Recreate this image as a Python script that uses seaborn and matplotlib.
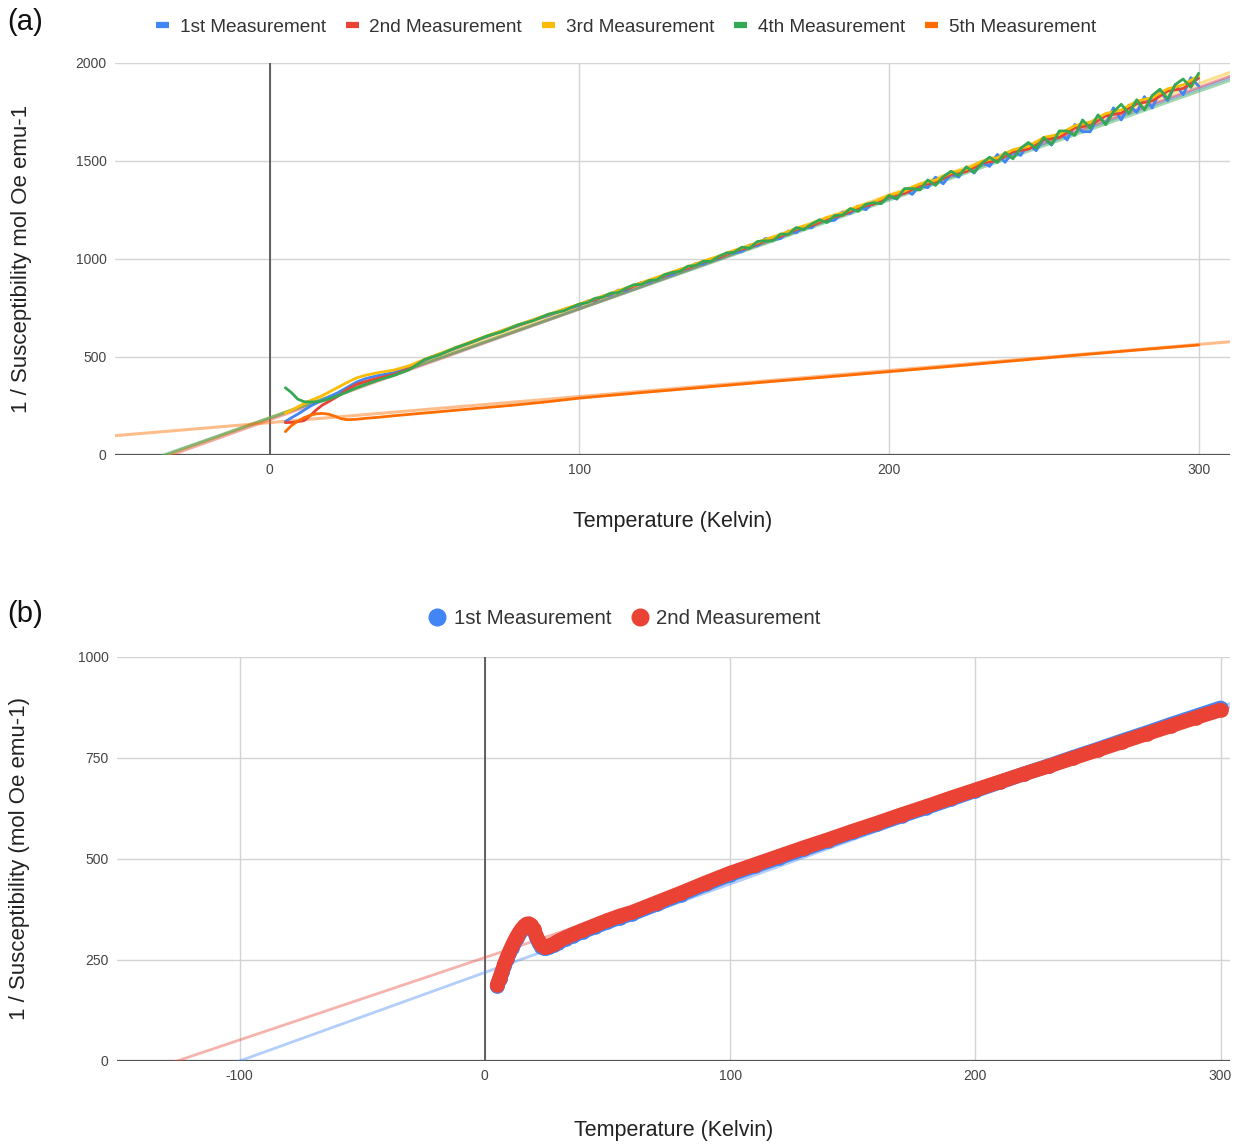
import numpy as np
import seaborn as sns
import matplotlib.pyplot as plt
from matplotlib.lines import Line2D

# Colours (Google Sheets palette)
BLUE, RED, YELLOW, GREEN, ORANGE = '#4285F4', '#EA4335', '#FBBC04', '#34A853', '#FF6D01'

# ---------------- Panel (a) data ----------------
labels_a = ['1st Measurement', '2nd Measurement', '3rd Measurement',
            '4th Measurement', '5th Measurement']

# coarse grid (2nd and 3rd measurement, mostly hidden under the others)
temp_a = [5, 7, 9, 11, 13, 15, 17, 19, 22, 25, 28, 31, 35, 40, 45,
          50, 55, 60, 65, 70, 75, 80, 85, 90, 95, 100, 105, 110, 115, 120,
          125, 130, 135, 140, 145, 150, 155, 160, 165, 170, 175, 180, 185,
          190, 195, 200, 205, 210, 215, 220, 225, 230, 235, 240, 245, 250,
          255, 260, 265, 270, 275, 280, 285, 290, 295, 300]

second_a = [165, 166, 170, 175, 200, 230, 255, 272, 300, 335, 360, 375, 392, 410, 440,
            486, 514, 546, 574, 605, 631, 661, 686, 716, 738, 768, 792, 822, 846, 876,
            899, 930, 953, 985, 1007, 1040, 1060, 1094, 1115, 1150, 1170, 1206, 1224,
            1261, 1280, 1318, 1334, 1376, 1390, 1432, 1446, 1490, 1502, 1548, 1560, 1608,
            1620, 1668, 1682, 1730, 1744, 1792, 1806, 1856, 1870, 1922]

third_a = [213, 228, 245, 262, 277, 290, 303, 320, 345, 370, 393, 407, 420, 433, 455,
           488, 518, 548, 578, 607, 635, 663, 690, 717, 744, 770, 797, 824, 852, 879,
           906, 934, 960, 989, 1014, 1044, 1068, 1099, 1123, 1156, 1179, 1212, 1234,
           1268, 1290, 1325, 1346, 1383, 1402, 1440, 1458, 1499, 1516, 1557, 1574, 1620,
           1636, 1680, 1698, 1742, 1760, 1805, 1823, 1868, 1888, 1935]

# fine grid (1st and 4th measurement, the visible noisy band)
temp_fine = [5, 7, 9, 11, 13, 15, 17, 19, 22, 25, 28, 31, 35, 40, 45,
             50, 55, 60, 65, 70, 75, 80, 85, 90, 95,
             100, 102.5, 105, 107.5, 110, 112.5, 115, 117.5, 120, 122.5, 125, 127.5,
             130, 132.5, 135, 137.5, 140, 142.5, 145, 147.5, 150, 152.5, 155, 157.5,
             160, 162.5, 165, 167.5, 170, 172.5, 175, 177.5, 180, 182.5, 185, 187.5,
             190, 192.5, 195, 197.5, 200, 202.5, 205, 207.5, 210, 212.5, 215, 217.5,
             220, 222.5, 225, 227.5, 230, 232.5, 235, 237.5, 240, 242.5, 245, 247.5,
             250, 252.5, 255, 257.5, 260, 262.5, 265, 267.5, 270, 272.5, 275, 277.5,
             280, 282.5, 285, 287.5, 290, 292.5, 295, 297.5, 300]

first_a = [170, 190, 208, 228, 248, 265, 280, 295, 318, 345, 372, 390, 405, 420, 447,
           484, 516, 544, 576, 603, 634, 658, 689, 711, 743,
           762, 785, 787, 810, 815, 841, 839, 863, 880, 881, 905, 912,
           920, 948, 950, 976, 973, 1000, 1003, 1031, 1031, 1038, 1071, 1067,
           1104, 1098, 1104, 1142, 1134, 1166, 1158, 1199, 1192, 1198, 1239, 1232,
           1269, 1251, 1291, 1285, 1321, 1305, 1354, 1329, 1377, 1363, 1417, 1383,
           1435, 1417, 1469, 1438, 1494, 1472, 1533, 1493, 1547, 1528, 1586, 1552,
           1614, 1581, 1648, 1607, 1686, 1649, 1649, 1727, 1690, 1771, 1709, 1785,
           1748, 1828, 1770, 1855, 1808, 1890, 1838, 1925, 1882]

fourth_a = [343, 318, 285, 272, 270, 271, 276, 285, 302, 322, 342, 360, 382, 405, 435,
            487, 513, 547, 574, 606, 629, 663, 685, 718, 736,
            770, 777, 799, 805, 825, 828, 850, 868, 870, 890, 894, 920,
            931, 937, 963, 966, 988, 988, 1013, 1030, 1034, 1060, 1055, 1089,
            1093, 1092, 1127, 1126, 1160, 1150, 1178, 1199, 1186, 1222, 1224, 1257,
            1243, 1279, 1287, 1282, 1324, 1307, 1359, 1359, 1352, 1403, 1375, 1419,
            1447, 1425, 1469, 1442, 1488, 1519, 1492, 1543, 1511, 1564, 1594, 1564,
            1620, 1583, 1653, 1653, 1630, 1709, 1667, 1735, 1685, 1751, 1789, 1742,
            1812, 1760, 1834, 1866, 1816, 1890, 1918, 1875, 1947]

temp_5th = [5, 7, 9, 11, 13, 15, 17, 19, 21, 23, 25, 28, 31, 35, 40, 45, 50,
            60, 70, 80, 90, 100, 120, 140, 160, 180, 200, 220, 240, 260, 280, 300]
fifth_a = [119, 150, 172, 190, 202, 210, 212, 208, 198, 185, 180, 182, 187, 192, 200, 207, 214,
           228, 242, 256, 272, 290, 318, 345, 372, 398, 425, 452, 480, 508, 535, 561]

# linear trend lines (1st..5th)
trend_a_slope = [5.60, 5.65, 5.68, 5.55, 1.33]
trend_a_intercept = [188, 180, 190, 190, 165]

# ---------------- Panel (b) data ----------------
labels_b = ['1st Measurement', '2nd Measurement']
temp_b = [5, 6, 7, 8, 9, 10, 11, 12, 13, 14, 15, 16, 17, 18, 19, 20, 21, 22, 23, 24,
          25, 26, 28, 30, 33, 36, 40, 45, 50, 55, 60, 70, 80, 90, 100, 110, 120, 130,
          140, 150, 160, 170, 180, 190, 200, 210, 220, 230, 240, 250, 260, 270, 280,
          290, 300]
first_b = [185, 202, 219, 236, 252, 266, 280, 292, 304, 314, 323, 330, 335, 336, 332, 322,
           306, 292, 283, 279, 279, 281, 286, 293, 302, 310, 320, 332, 344, 355, 364, 388,
           412, 437, 461, 482, 503, 524, 545, 566, 586, 607, 627, 648, 669, 690, 711, 731,
           752, 772, 793, 813, 834, 854, 874]
second_b = [188, 205, 222, 240, 256, 270, 284, 296, 308, 318, 327, 334, 339, 340, 336, 326,
            310, 296, 287, 283, 283, 285, 290, 297, 306, 314, 324, 336, 348, 359, 368, 392,
            416, 441, 465, 486, 507, 528, 548, 569, 589, 610, 630, 651, 671, 691, 711, 730,
            750, 770, 790, 810, 830, 850, 869]
trend_b_slope = [2.19, 2.04]
trend_b_intercept = [219, 256]

# ---------------- Figure ----------------
sns.set_theme(style='white')
plt.rcParams['font.family'] = ['Liberation Sans', 'DejaVu Sans']
plt.rcParams['axes.unicode_minus'] = False

fig = plt.figure(figsize=(12.37, 11.44), dpi=100)
ax_a = fig.add_axes([0.093, 0.6023, 0.901, 0.3427])
ax_b = fig.add_axes([0.0946, 0.0726, 0.900, 0.3531])


def style_axes(ax, xlim, ylim, xticks, yticks, ylabel, xlab_y):
    ax.set_xlim(xlim)
    ax.set_ylim(ylim)
    ax.set_xticks(xticks)
    ax.set_yticks(yticks)
    for s in ax.spines.values():
        s.set_visible(False)
    ax.grid(True, color='#d4d4d4', lw=1.0)
    ax.axhline(0, color='#555555', lw=1.6, zorder=1.5)
    ax.axvline(0, color='#555555', lw=1.3, zorder=1.5)
    ax.tick_params(length=0, labelsize=10, labelcolor='#444444', pad=6)
    ax.set_xlabel('Temperature (Kelvin)', fontsize=15.5, color='#222222')
    ax.set_ylabel(ylabel, fontsize=16, color='#222222')
    ax.xaxis.set_label_coords(0.5, xlab_y)
    ax.set_axisbelow(True)


# Panel (a)
xlim_a = np.array([-50, 310])
colors_a = [BLUE, RED, YELLOW, GREEN, ORANGE]
for slope, icpt, col in zip(trend_a_slope, trend_a_intercept, colors_a):
    sns.lineplot(x=xlim_a, y=icpt + slope * xlim_a, color=col, alpha=0.45,
                 lw=2.2, ax=ax_a, zorder=2)

series_a = [(temp_fine, first_a, BLUE), (temp_a, second_a, RED),
            (temp_a, third_a, YELLOW), (temp_fine, fourth_a, GREEN),
            (temp_5th, fifth_a, ORANGE)]
for tt, vals, col in series_a:
    sns.lineplot(x=tt, y=vals, color=col, lw=2.0, sort=False,
                 estimator=None, ax=ax_a, zorder=3)

style_axes(ax_a, xlim_a, (0, 2000), [0, 100, 200, 300],
           [0, 500, 1000, 1500, 2000], '1 / Susceptibility mol Oe emu-1', -0.143)
ax_a.yaxis.set_label_coords(-0.0745, 0.5)

handles_a = [Line2D([], [], color=c, lw=4.5, solid_capstyle='butt') for c in colors_a]
fig.legend(handles_a, labels_a, loc='center', bbox_to_anchor=(0.506, 0.976),
           ncol=5, frameon=False, fontsize=13.7, handlelength=0.7,
           handletextpad=0.55, columnspacing=1.05, labelcolor='#333333')

# Panel (b)
xlim_b = np.array([-150, 304])
colors_b = [BLUE, RED]
for slope, icpt, col in zip(trend_b_slope, trend_b_intercept, colors_b):
    sns.lineplot(x=xlim_b, y=icpt + slope * xlim_b, color=col, alpha=0.4,
                 lw=2.0, ax=ax_b, zorder=2)

for vals, col in zip([first_b, second_b], colors_b):
    sns.lineplot(x=temp_b, y=vals, color=col, lw=10.5, marker='o',
                 markersize=10.5, markeredgewidth=0, sort=False, estimator=None,
                 solid_capstyle='round', solid_joinstyle='round',
                 ax=ax_b, zorder=3)

style_axes(ax_b, xlim_b, (0, 1000), [-100, 0, 100, 200, 300],
           [0, 250, 500, 750, 1000], '1 / Susceptibility (mol Oe emu-1)', -0.146)
ax_b.yaxis.set_label_coords(-0.078, 0.5)

handles_b = [Line2D([], [], color=c, marker='o', markersize=12, lw=0) for c in colors_b]
fig.legend(handles_b, labels_b, loc='center', bbox_to_anchor=(0.505, 0.459),
           ncol=2, frameon=False, fontsize=14.7, handlelength=0.8,
           handletextpad=0.4, columnspacing=1.0, labelcolor='#333333')

fig.text(0.006, 0.981, '(a)', fontsize=21, va='center', color='#111111')
fig.text(0.006, 0.463, '(b)', fontsize=21, va='center', color='#111111')

fig.savefig('out.png', dpi=100, facecolor='white')
